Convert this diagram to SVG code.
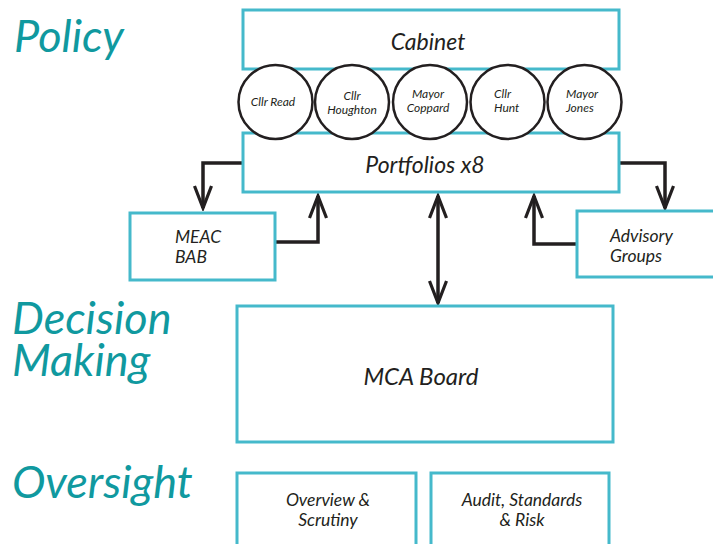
<svg xmlns="http://www.w3.org/2000/svg" width="713" height="544" viewBox="0 0 713 544">
  <style>
    .box { fill: #ffffff; stroke: #45b9cb; stroke-width: 3; }
    .member { fill: #ffffff; stroke: #231f20; stroke-width: 2.5; }
    .label { font-family: Lato, "Open Sans", "Liberation Sans", sans-serif; font-style: italic; fill: #231f20; }
    .tier { font-family: Lato, "Open Sans", "Liberation Sans", sans-serif; font-style: italic; fill: #10999f; font-size: 45px; }
    .wire { fill: none; stroke: #231f20; stroke-width: 3.5; }
  </style>
  <defs>
    <marker id="chevron" viewBox="-25 -12 28 24" refX="0" refY="0" markerWidth="28" markerHeight="24" markerUnits="userSpaceOnUse" orient="auto-start-reverse">
      <path d="M-22,-8.5 L0,0 L-22,8.5" fill="none" stroke="#231f20" stroke-width="3.2" stroke-linejoin="miter"/>
    </marker>
  </defs>

  <rect width="713" height="544" fill="#ffffff"/>

  <!-- tier headings -->
  <g id="headings">
    <text class="tier" x="14" y="52">Policy</text>
    <text class="tier" x="12" y="334">Decision</text>
    <text class="tier" x="12" y="376">Making</text>
    <text class="tier" x="12" y="498">Oversight</text>
  </g>

  <!-- connectors -->
  <g id="connectors">
    <path class="wire" d="M243,163 H203 V208" marker-end="url(#chevron)"/>
    <path class="wire" d="M275,242 H318 V196" marker-end="url(#chevron)"/>
    <path class="wire" d="M619,163 H665 V208" marker-end="url(#chevron)"/>
    <path class="wire" d="M577,244 H534 V196" marker-end="url(#chevron)"/>
    <path class="wire" d="M438,196 V303" marker-start="url(#chevron)" marker-end="url(#chevron)"/>
  </g>

  <g id="cabinet">
    <rect class="box" x="243" y="10" width="376" height="59"/>
    <text class="label" x="428" y="50" font-size="23" text-anchor="middle">Cabinet</text>
  </g>

  <g id="portfolios">
    <rect class="box" x="243" y="133" width="376" height="59"/>
    <text class="label" x="425" y="173" font-size="23" text-anchor="middle">Portfolios x8</text>
  </g>

  <g id="cllr-read">
    <circle class="member" cx="275.5" cy="102" r="37"/>
    <text class="label" x="273" y="106" font-size="12" text-anchor="middle">Cllr Read</text>
  </g>
  <g id="cllr-houghton">
    <circle class="member" cx="352" cy="102" r="37"/>
    <text class="label" x="352" y="100" font-size="12" text-anchor="middle">Cllr</text>
    <text class="label" x="352" y="114" font-size="12" text-anchor="middle">Houghton</text>
  </g>
  <g id="mayor-coppard">
    <circle class="member" cx="430" cy="102" r="37"/>
    <text class="label" x="428" y="98" font-size="12" text-anchor="middle">Mayor</text>
    <text class="label" x="428" y="112" font-size="12" text-anchor="middle">Coppard</text>
  </g>
  <g id="cllr-hunt">
    <circle class="member" cx="507.5" cy="102" r="37"/>
    <text class="label" x="494" y="98" font-size="12">Cllr</text>
    <text class="label" x="494" y="112" font-size="12">Hunt</text>
  </g>
  <g id="mayor-jones">
    <circle class="member" cx="584.5" cy="102" r="37"/>
    <text class="label" x="566" y="98" font-size="12">Mayor</text>
    <text class="label" x="566" y="112" font-size="12">Jones</text>
  </g>

  <g id="meac-bab">
    <rect class="box" x="130" y="213" width="145" height="67"/>
    <text class="label" x="175" y="243" font-size="17.5">MEAC</text>
    <text class="label" x="175" y="263" font-size="17.5">BAB</text>
  </g>

  <g id="advisory-groups">
    <rect class="box" x="577" y="211" width="140" height="66"/>
    <text class="label" x="610" y="242" font-size="17.5">Advisory</text>
    <text class="label" x="610" y="262" font-size="17.5">Groups</text>
  </g>

  <g id="mca-board">
    <rect class="box" x="237" y="306" width="376" height="136"/>
    <text class="label" x="421" y="385" font-size="24" text-anchor="middle">MCA Board</text>
  </g>

  <g id="overview-scrutiny">
    <rect class="box" x="237" y="473" width="179" height="80"/>
    <text class="label" x="328" y="506" font-size="17.5" text-anchor="middle">Overview &amp;</text>
    <text class="label" x="328" y="526" font-size="17.5" text-anchor="middle">Scrutiny</text>
  </g>

  <g id="audit-standards-risk">
    <rect class="box" x="431" y="473" width="178" height="80"/>
    <text class="label" x="522" y="506" font-size="17.5" text-anchor="middle">Audit, Standards</text>
    <text class="label" x="522" y="526" font-size="17.5" text-anchor="middle">&amp; Risk</text>
  </g>
</svg>
